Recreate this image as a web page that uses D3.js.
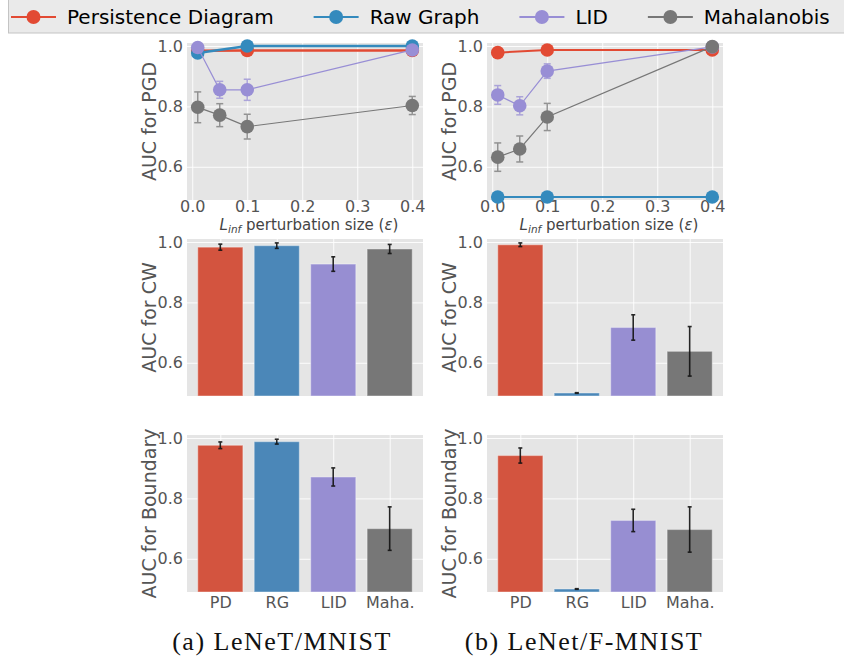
<!DOCTYPE html>
<html><head><meta charset="utf-8">
<script src="https://cdn.jsdelivr.net/npm/d3@7"></script>
<style>
body{margin:0;background:#fff}
svg{display:block}
text{font-family:"DejaVu Sans",sans-serif}
</style>
</head><body>
<svg id="fig" width="844" height="664"></svg>
<script>
// ---- data ----
const methods = ["Persistence Diagram", "Raw Graph", "LID", "Mahalanobis"];
const methodShort = ["PD", "RG", "LID", "Maha."];
const lineColors = ["#E24A33", "#348ABD", "#988ED5", "#777777"];
const barColors = ["#d3543f", "#4b87b8", "#978ed2", "#777777"];
const epsFull = [0.01, 0.05, 0.1, 0.4];
const epsSparse = [0.01, 0.1, 0.4];
const yTickValues = [0.6, 0.8, 1.0];
const epsTickValues = [0.0, 0.1, 0.2, 0.3, 0.4];
const captions = ["(a) LeNeT/MNIST", "(b) LeNet/F-MNIST"];

// PGD attack, AUC vs perturbation size
const pgdMnistPD = [0.984, 0.985, 0.985];
const pgdMnistRG = [0.977, 1.0, 1.0];
const pgdMnistLID = [0.995, 0.855, 0.855, 0.987];
const pgdMnistLIDErr = [0.003, 0.028, 0.035, 0.003];
const pgdMnistMaha = [0.797, 0.771, 0.733, 0.803];
const pgdMnistMahaErr = [0.051, 0.038, 0.041, 0.030];

const pgdFmnistPD = [0.978, 0.987, 0.987];
const pgdFmnistRG = [0.5, 0.5, 0.5];
const pgdFmnistLID = [0.838, 0.802, 0.917, 0.997];
const pgdFmnistLIDErr = [0.031, 0.030, 0.024, 0.003];
const pgdFmnistMaha = [0.632, 0.659, 0.765, 0.998];
const pgdFmnistMahaErr = [0.047, 0.043, 0.045, 0.003];

// CW attack, AUC per method
const cwMnist = [0.983, 0.988, 0.927, 0.977];
const cwMnistErr = [0.010, 0.009, 0.024, 0.015];
const cwFmnist = [0.991, 0.5, 0.717, 0.638];
const cwFmnistErr = [0.006, 0.001, 0.042, 0.082];

// Boundary attack, AUC per method
const bdMnist = [0.976, 0.988, 0.871, 0.700];
const bdMnistErr = [0.011, 0.008, 0.030, 0.072];
const bdFmnist = [0.942, 0.5, 0.727, 0.697];
const bdFmnistErr = [0.025, 0.001, 0.037, 0.075];

// ---- layout ----
const svg = d3.select("#fig");
const colX = [187, 487];
const rowY = [43, 239, 435];
const PW = 236, PH = 157;
const yDomain = [0.49, 1.01];
const tickColor = "#555555";

function panelFrame(cx, ry, xScale, xTicks, yLabel) {
  const g = svg.append("g").attr("transform", `translate(${cx},${ry})`);
  g.append("rect").attr("width", PW).attr("height", PH).attr("fill", "#E5E5E5");
  const y = d3.scaleLinear().domain(yDomain).range([PH, 0]);
  // grid
  g.append("g").call(d3.axisLeft(y).tickValues(yTickValues).tickSize(-PW).tickFormat(""))
    .call(s => { s.select(".domain").remove(); s.selectAll("line").attr("stroke", "#fff").attr("stroke-width", 0.9); });
  g.append("g").attr("transform", `translate(0,${PH})`)
    .call(d3.axisBottom(xScale).tickValues(xTicks).tickSize(-PH).tickFormat(""))
    .call(s => { s.select(".domain").remove(); s.selectAll("line").attr("stroke", "#fff").attr("stroke-width", 0.9); });
  // y tick labels
  g.append("g").call(d3.axisLeft(y).tickValues(yTickValues).tickSize(0).tickPadding(4).tickFormat(d3.format(".1f")))
    .call(s => { s.select(".domain").remove();
      s.selectAll("text").attr("fill", tickColor).style("font-size", "16px").style("font-family", "DejaVu Sans"); });
  // y label
  g.append("text").attr("transform", `translate(-31,${PH / 2}) rotate(-90)`)
    .attr("text-anchor", "middle").attr("fill", tickColor).style("font-size", "19px").text(yLabel);
  return { g, y };
}

function linePanel(col, series) {
  const x = d3.scaleLinear().domain([-0.0095, 0.4195]).range([0, PW]);
  const { g, y } = panelFrame(colX[col], rowY[0], x, epsTickValues, "AUC for PGD");
  // x tick labels
  g.append("g").attr("transform", `translate(0,${PH})`)
    .call(d3.axisBottom(x).tickValues(epsTickValues).tickSize(0).tickPadding(1).tickFormat(d3.format(".1f")))
    .call(s => { s.select(".domain").remove();
      s.selectAll("text").attr("fill", tickColor).style("font-size", "16px").style("font-family", "DejaVu Sans"); });
  // x label with italic subscript
  const xl = g.append("text").attr("x", PW / 2 + 4).attr("y", PH + 30).attr("text-anchor", "middle")
    .attr("fill", "#444").style("font-size", "15px");
  xl.append("tspan").style("font-style", "italic").text("L");
  xl.append("tspan").style("font-style", "italic").style("font-size", "10.5px").attr("dy", 3).text("inf");
  xl.append("tspan").attr("dy", -3).text(" perturbation size (");
  xl.append("tspan").style("font-style", "italic").text("ε");
  xl.append("tspan").text(")");

  const line = d3.line().x(d => x(d[0])).y(d => y(d[1]));
  series.forEach(s => {
    const pts = s.xs.map((v, i) => [v, s.ys[i], s.err ? s.err[i] : 0]);
    if (s.err) {
      const eb = g.append("g").attr("stroke", s.color).attr("stroke-width", 1.5).attr("opacity", 0.75);
      pts.forEach(p => {
        if (p[2] <= 0) return;
        const px = x(p[0]), t = y(p[1] + p[2]), b = y(p[1] - p[2]);
        eb.append("line").attr("x1", px).attr("x2", px).attr("y1", t).attr("y2", b);
        eb.append("line").attr("x1", px - 3.5).attr("x2", px + 3.5).attr("y1", t).attr("y2", t);
        eb.append("line").attr("x1", px - 3.5).attr("x2", px + 3.5).attr("y1", b).attr("y2", b);
      });
    }
    g.append("path").datum(pts).attr("d", line).attr("fill", "none")
      .attr("stroke", s.color).attr("stroke-width", s.lw);
    g.selectAll(null).data(pts).enter().append("circle")
      .attr("cx", d => x(d[0])).attr("cy", d => y(d[1])).attr("r", 6.8).attr("fill", s.color);
  });
}

function barPanel(col, row, yLabel, vals, errs, showLabels) {
  const x = d3.scaleLinear().domain([-0.59, 3.59]).range([0, PW]);
  const idx = d3.range(vals.length);
  const { g, y } = panelFrame(colX[col], rowY[row], x, idx, yLabel);
  const bw = x(0.8) - x(0);
  g.selectAll(null).data(idx).enter().append("rect")
    .attr("x", i => x(i) - bw / 2).attr("width", bw)
    .attr("y", i => y(vals[i])).attr("height", i => y(yDomain[0]) - y(vals[i]))
    .attr("fill", i => barColors[i])
    .attr("stroke", "rgba(255,255,255,0.35)").attr("stroke-width", 1.2);
  const eb = g.append("g").attr("stroke", "#111").attr("stroke-width", 1.6).attr("opacity", 0.9);
  idx.forEach(i => {
    const px = x(i), t = y(vals[i] + errs[i]), b = y(vals[i] - errs[i]);
    eb.append("line").attr("x1", px).attr("x2", px).attr("y1", t).attr("y2", b);
    eb.append("line").attr("x1", px - 2).attr("x2", px + 2).attr("y1", t).attr("y2", t);
    eb.append("line").attr("x1", px - 2).attr("x2", px + 2).attr("y1", b).attr("y2", b);
  });
  if (showLabels) {
    g.append("g").attr("transform", `translate(0,${PH})`)
      .call(d3.axisBottom(x).tickValues(idx).tickSize(0).tickPadding(5).tickFormat(i => methodShort[i]))
      .call(s => { s.select(".domain").remove();
        s.selectAll("text").attr("fill", tickColor).style("font-size", "16px").style("font-family", "DejaVu Sans"); });
  }
}

linePanel(0, [
  { xs: epsSparse, ys: pgdMnistPD, color: lineColors[0], lw: 2.5 },
  { xs: epsSparse, ys: pgdMnistRG, color: lineColors[1], lw: 2.5 },
  { xs: epsFull, ys: pgdMnistLID, err: pgdMnistLIDErr, color: lineColors[2], lw: 1.2 },
  { xs: epsFull, ys: pgdMnistMaha, err: pgdMnistMahaErr, color: lineColors[3], lw: 1.2 }
]);
linePanel(1, [
  { xs: epsSparse, ys: pgdFmnistPD, color: lineColors[0], lw: 2 },
  { xs: epsSparse, ys: pgdFmnistRG, color: lineColors[1], lw: 2 },
  { xs: epsFull, ys: pgdFmnistLID, err: pgdFmnistLIDErr, color: lineColors[2], lw: 1.2 },
  { xs: epsFull, ys: pgdFmnistMaha, err: pgdFmnistMahaErr, color: lineColors[3], lw: 1.2 }
]);
barPanel(0, 1, "AUC for CW", cwMnist, cwMnistErr, false);
barPanel(1, 1, "AUC for CW", cwFmnist, cwFmnistErr, false);
barPanel(0, 2, "AUC for Boundary", bdMnist, bdMnistErr, true);
barPanel(1, 2, "AUC for Boundary", bdFmnist, bdFmnistErr, true);

// ---- legend ----
const leg = svg.append("g");
leg.append("rect").attr("x", 8.5).attr("y", -3).attr("width", 900).attr("height", 36)
  .attr("fill", "#eaeaea").attr("stroke", "#c4c4c4").attr("stroke-width", 1);
let lx = 11;
methods.forEach((m, i) => {
  const it = leg.append("g").attr("transform", `translate(${lx},17)`);
  it.append("line").attr("x1", 0).attr("x2", 45).attr("stroke", lineColors[i]).attr("stroke-width", 2);
  it.append("circle").attr("cx", 22.5).attr("r", 7).attr("fill", lineColors[i]);
  const t = it.append("text").attr("x", 56).attr("y", 7).attr("fill", "#000").style("font-size", "20px").text(m);
  lx += 56 + t.node().getComputedTextLength() + 40;
});

// ---- captions ----
[282, 584].forEach((cx, i) => {
  svg.append("text").attr("x", cx).attr("y", 650).attr("text-anchor", "middle")
    .style("font-family", "'Liberation Serif', serif").style("font-size", "26px")
    .style("letter-spacing", "1.5px").attr("fill", "#111").text(captions[i]);
});
</script>
</body></html>
